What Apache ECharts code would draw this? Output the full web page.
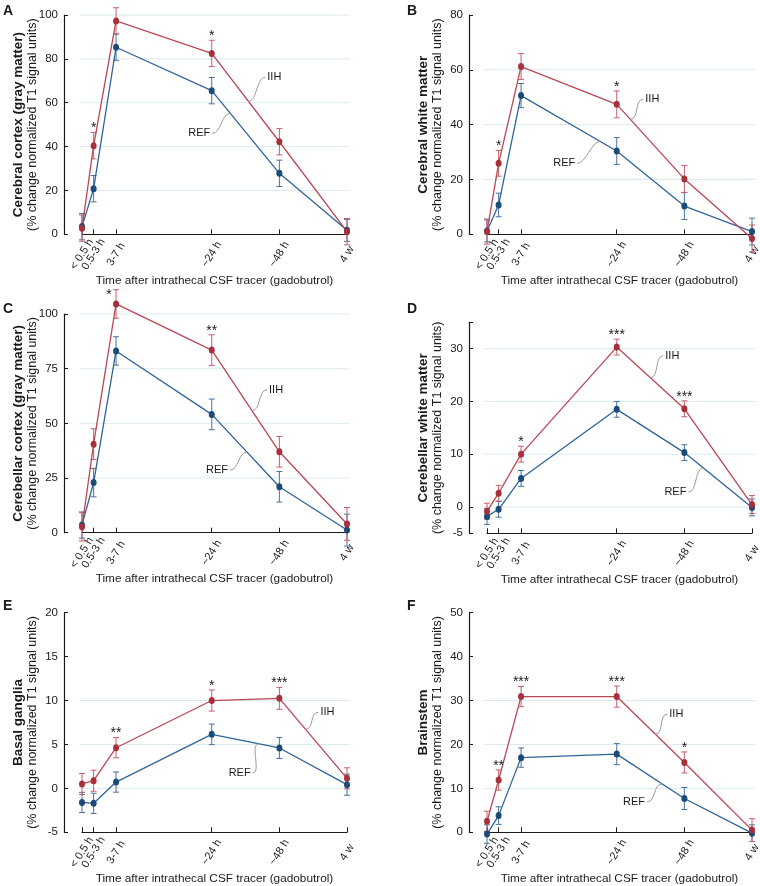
<!DOCTYPE html>
<html>
<head>
<meta charset="utf-8">
<script src="https://cdn.jsdelivr.net/npm/echarts@6/dist/echarts.min.js"></script>
<style>
  html, body { margin: 0; padding: 0; background: #fff; }
  #chart { width: 760px; height: 886px; }
</style>
</head>
<body>
<div id="chart"></div>
<script>
// time points after the tracer and where they sit along the x axis
const timeLabels = ['< 0.5 h', '0.5-3 h', '3-7 h', '~24 h', '~48 h', '4 w'];
const timePos = [0, 11.6, 34, 129.5, 197, 264.5];

// A - cerebral cortex (gray matter)
const aIIH = [2.8, 40.4, 97.3, 82.5, 42.2, 1.2];
const aIIHErr = [6, 6, 6, 6, 6, 6];
const aREF = [3.5, 20.8, 85.3, 65.5, 27.8, 1.8];
const aREFErr = [6, 6, 6, 6, 6, 5];
const aSig = ['', '*', '', '*', '', ''];

// B - cerebral white matter
const bIIH = [1.0, 25.9, 61.2, 47.4, 20.2, -1.5];
const bIIHErr = [4.6, 4.7, 4.7, 4.9, 4.9, 4.9];
const bREF = [1.2, 10.7, 50.6, 30.4, 10.3, 1.0];
const bREFErr = [4, 4.3, 4.4, 4.9, 4.9, 4.9];
const bSig = ['', '*', '', '*', '', ''];

// C - cerebellar cortex (gray matter)
const cIIH = [2.7, 40.5, 104.6, 83.5, 37.0, 4.0];
const cIIHErr = [6.5, 7, 6.5, 7, 7, 7.5];
const cREF = [3.5, 22.9, 83.1, 54.1, 21.0, 1.2];
const cREFErr = [6, 6.5, 6.5, 7, 7, 7.3];
const cSig = ['', '', '*', '**', '', ''];

// D - cerebellar white matter
const dIIH = [-0.8, 2.6, 10.0, 30.3, 18.6, 0.45];
const dIIHErr = [1.5, 1.5, 1.5, 1.5, 1.5, 1.7];
const dREF = [-1.8, -0.45, 5.4, 18.5, 10.3, -0.1];
const dREFErr = [1.5, 1.5, 1.5, 1.5, 1.5, 1.6];
const dSig = ['', '', '*', '***', '***', ''];

// E - basal ganglia
const eIIH = [0.5, 0.87, 4.63, 10.0, 10.25, 1.14];
const eIIHErr = [1.2, 1.2, 1.15, 1.2, 1.25, 1.2];
const eREF = [-1.6, -1.7, 0.72, 6.15, 4.6, 0.42];
const eREFErr = [1.15, 1.15, 1.15, 1.17, 1.2, 1.2];
const eSig = ['', '', '**', '*', '***', ''];

// F - brainstem
const fIIH = [2.5, 11.9, 30.9, 30.9, 15.9, 0.5];
const fIIHErr = [2.3, 2.3, 2.3, 2.4, 2.4, 2.6];
const fREF = [-0.4, 3.8, 17.0, 17.8, 7.7, -0.2];
const fREFErr = [2.1, 2.0, 2.2, 2.4, 2.5, 1.9];
const fSig = ['', '**', '***', '***', '*', ''];

const FONT = '"Liberation Sans", Arial, sans-serif';
const RED = '#a8303d', RED_LINE = '#bb4753', RED_ERR = '#c65f69';
const BLUE = '#1c4b79', BLUE_LINE = '#30639a', BLUE_ERR = '#46739f';
const INK = '#1a1a1a';

const panels = [
  { letter: 'A', title: 'Cerebral cortex (gray matter)', iih: aIIH, iihErr: aIIHErr, ref: aREF, refErr: aREFErr, sig: aSig,
    min: 0, max: 100, interval: 20, gridVals: [20, 40, 60, 80, 100],
    grid: { left: 82, top: 15, width: 265, height: 219.3 },
    notes: [{ text: 'IIH', on: 'iih', x: 166, dx: 17, dy: -24 }, { text: 'REF', on: 'ref', x: 148, dx: -18, dy: 20 }] },
  { letter: 'B', title: 'Cerebral white matter', iih: bIIH, iihErr: bIIHErr, ref: bREF, refErr: bREFErr, sig: bSig,
    min: 0, max: 80, interval: 20, gridVals: [20, 40, 60],
    grid: { left: 487, top: 15, width: 265, height: 219.3 },
    notes: [{ text: 'IIH', on: 'iih', x: 143, dx: 13, dy: -20 }, { text: 'REF', on: 'ref', x: 113, dx: -23, dy: 22 }] },
  { letter: 'C', title: 'Cerebellar cortex (gray matter)', iih: cIIH, iihErr: cIIHErr, ref: cREF, refErr: cREFErr, sig: cSig,
    min: 0, max: 100, interval: 25, gridVals: [25, 50, 75, 100], sigNudge: { 2: [-7, 9] },
    grid: { left: 82, top: 314, width: 265, height: 218.7 },
    notes: [{ text: 'IIH', on: 'iih', x: 169.7, dx: 15, dy: -21 }, { text: 'REF', on: 'ref', x: 164.7, dx: -17, dy: 18 }] },
  { letter: 'D', title: 'Cerebellar white matter', iih: dIIH, iihErr: dIIHErr, ref: dREF, refErr: dREFErr, sig: dSig,
    min: -5, max: 35, interval: 5, gridVals: [0, 10, 20, 30], labelVals: [-5, 0, 10, 20, 30],
    grid: { left: 487, top: 322.3, width: 265, height: 211 },
    notes: [{ text: 'IIH', on: 'iih', x: 163, dx: 13, dy: -22 }, { text: 'REF', on: 'ref', x: 216, dx: -15, dy: 24 }] },
  { letter: 'E', title: 'Basal ganglia', iih: eIIH, iihErr: eIIHErr, ref: eREF, refErr: eREFErr, sig: eSig,
    min: -5, max: 20, interval: 5, gridVals: [0, 5, 10],
    grid: { left: 82, top: 612.7, width: 265, height: 219.6 },
    notes: [{ text: 'IIH', on: 'iih', x: 223, dx: 13, dy: -17 }, { text: 'REF', on: 'ref', x: 176.3, dx: -6, dy: 29 }] },
  { letter: 'F', title: 'Brainstem', iih: fIIH, iihErr: fIIHErr, ref: fREF, refErr: fREFErr, sig: fSig,
    min: 0, max: 50, interval: 10, gridVals: [10, 20, 30],
    grid: { left: 487, top: 612.7, width: 265, height: 219.6 },
    notes: [{ text: 'IIH', on: 'iih', x: 168, dx: 12, dy: -20 }, { text: 'REF', on: 'ref', x: 174.7, dx: -15, dy: 18 }] }
];

function interp(xs, ys, x) {
  for (let i = 0; i < xs.length - 1; i++) {
    if (x >= xs[i] && x <= xs[i + 1]) {
      const t = (x - xs[i]) / (xs[i + 1] - xs[i]);
      return ys[i] + t * (ys[i + 1] - ys[i]);
    }
  }
  return ys[ys.length - 1];
}

function timeLabel(v) {
  let best = 0;
  for (let i = 1; i < timePos.length; i++) {
    if (Math.abs(timePos[i] - v) < Math.abs(timePos[best] - v)) best = i;
  }
  return timeLabels[best];
}

function errorBars(color) {
  return function (params, api) {
    const x = api.value(0), y = api.value(1), e = api.value(2);
    const lo = api.coord([x, y - e]), hi = api.coord([x, y + e]);
    const w = 3;
    const st = { stroke: color, lineWidth: 1 };
    return {
      type: 'group',
      children: [
        { type: 'line', shape: { x1: lo[0], y1: lo[1], x2: hi[0], y2: hi[1] }, style: st },
        { type: 'line', shape: { x1: lo[0] - w, y1: lo[1], x2: lo[0] + w, y2: lo[1] }, style: st },
        { type: 'line', shape: { x1: hi[0] - w, y1: hi[1], x2: hi[0] + w, y2: hi[1] }, style: st }
      ]
    };
  };
}

// rotated time labels, centred under their tick
const xLabelStyle = {
  formatter: timeLabel, rotate: 58, margin: 20, align: 'center', verticalAlign: 'middle',
  showMinLabel: true, showMaxLabel: true, hideOverlap: false,
  fontSize: 11, color: INK, fontFamily: FONT
};

const grids = [], xAxes = [], yAxes = [], series = [], graphics = [];

panels.forEach(function (p, gi) {
  grids.push(Object.assign({ outerBoundsMode: 'none', containLabel: false }, p.grid));
  const xi = xAxes.length;

  // main x axis: line, ticks, title and all but the first label
  xAxes.push({
    gridIndex: gi, type: 'value', position: 'bottom', min: 0, max: timePos[timePos.length - 1],
    axisLine: { show: true, onZero: false, lineStyle: { color: INK, width: 1.2 } },
    axisTick: { show: true, inside: true, length: 5, customValues: timePos, lineStyle: { color: INK } },
    axisLabel: Object.assign({ customValues: timePos.slice(1) }, xLabelStyle),
    splitLine: { show: false },
    name: 'Time after intrathecal CSF tracer (gadobutrol)', nameLocation: 'middle', nameGap: 40,
    nameMoveOverlap: false,
    nameTextStyle: { fontSize: 11.8, color: INK, fontFamily: FONT }
  });
  // twin axis that only carries the "< 0.5 h" label (it overlaps its neighbour in the original)
  xAxes.push({
    gridIndex: gi, type: 'value', position: 'bottom', min: 0, max: timePos[timePos.length - 1],
    axisLine: { show: false, onZero: false }, axisTick: { show: false }, splitLine: { show: false },
    axisLabel: Object.assign({ customValues: [timePos[0]] }, xLabelStyle)
  });

  const yLab = { margin: 6, fontSize: 11.5, color: INK, fontFamily: FONT, showMinLabel: true, showMaxLabel: true };
  const yTick = { show: true, inside: true, length: 4, lineStyle: { color: INK } };
  if (p.labelVals) {
    yLab.customValues = p.labelVals;
    yTick.customValues = p.labelVals.concat([p.max]);
  }
  yAxes.push({
    gridIndex: gi, type: 'value', min: p.min, max: p.max, interval: p.interval, offset: 18,
    axisLine: { show: true, onZero: false, lineStyle: { color: INK, width: 1.2 } },
    axisTick: yTick, axisLabel: yLab, splitLine: { show: false },
    name: '{b|' + p.title + '}\n{n|(% change normalized T1 signal units)}',
    nameLocation: 'middle', nameRotate: 90, nameGap: 24, nameMoveOverlap: false,
    nameTextStyle: { color: INK, fontFamily: FONT,
      rich: { b: { fontWeight: 'bold', fontSize: 13.5, lineHeight: 15, fontFamily: FONT, color: INK },
              n: { fontSize: 12.5, lineHeight: 14, fontFamily: FONT, color: INK } } }
  });

  // light horizontal guide lines
  series.push({
    type: 'custom', xAxisIndex: xi, yAxisIndex: gi, z: 1, silent: true,
    data: p.gridVals.map(function (v) { return [0, v]; }),
    renderItem: function (params, api) {
      const cs = params.coordSys;
      const y = api.coord([0, api.value(1)])[1];
      return { type: 'line', shape: { x1: cs.x - 3, y1: y, x2: cs.x + cs.width + 3, y2: y },
        style: { stroke: '#dcebf0', lineWidth: 1 } };
    }
  });

  // error bars
  series.push({
    type: 'custom', xAxisIndex: xi, yAxisIndex: gi, z: 2, silent: true,
    data: timePos.map(function (x, i) { return [x, p.ref[i], p.refErr[i]]; }),
    renderItem: errorBars(BLUE_ERR)
  });
  series.push({
    type: 'custom', xAxisIndex: xi, yAxisIndex: gi, z: 2, silent: true,
    data: timePos.map(function (x, i) { return [x, p.iih[i], p.iihErr[i]]; }),
    renderItem: errorBars(RED_ERR)
  });

  // group means
  series.push({
    name: 'REF', type: 'line', xAxisIndex: xi, yAxisIndex: gi, z: 3, clip: false,
    data: timePos.map(function (x, i) { return [x, p.ref[i]]; }),
    symbol: 'circle', symbolSize: [6, 7],
    lineStyle: { color: BLUE_LINE, width: 1.3 }, itemStyle: { color: BLUE }
  });
  series.push({
    name: 'IIH', type: 'line', xAxisIndex: xi, yAxisIndex: gi, z: 3, clip: false,
    data: timePos.map(function (x, i) { return [x, p.iih[i]]; }),
    symbol: 'circle', symbolSize: [6, 7],
    lineStyle: { color: RED_LINE, width: 1.3 }, itemStyle: { color: RED }
  });

  // significance stars above the IIH error bars
  series.push({
    type: 'custom', xAxisIndex: xi, yAxisIndex: gi, z: 4, silent: true,
    data: timePos.map(function (x, i) { return [x, p.iih[i] + p.iihErr[i]]; }),
    renderItem: function (params, api) {
      const s = p.sig[params.dataIndex];
      if (!s) return null;
      const pt = api.coord([api.value(0), api.value(1)]);
      const n = (p.sigNudge && p.sigNudge[params.dataIndex]) || [0, 0];
      return { type: 'text', x: pt[0] + n[0], y: pt[1] - 4 + n[1],
        style: { text: s, fill: INK, font: '14px ' + FONT, align: 'center', verticalAlign: 'middle' } };
    }
  });

  // IIH / REF call-outs with curly leader lines
  series.push({
    type: 'custom', xAxisIndex: xi, yAxisIndex: gi, z: 4, silent: true,
    data: p.notes.map(function (n) { return [n.x, interp(timePos, p[n.on], n.x)]; }),
    renderItem: function (params, api) {
      const n = p.notes[params.dataIndex];
      const p1 = api.coord([api.value(0), api.value(1)]);
      const p0 = [p1[0] + n.dx, p1[1] + n.dy];
      const s = n.dx > 0 ? -1 : 1;
      const k = 9;
      return {
        type: 'group',
        children: [
          { type: 'bezierCurve',
            shape: { x1: p0[0], y1: p0[1], cpx1: p0[0] + s * k, cpy1: p0[1],
                     cpx2: p1[0] - s * k, cpy2: p1[1], x2: p1[0], y2: p1[1] },
            style: { stroke: '#9a9a9a', lineWidth: 1, fill: null } },
          { type: 'text', x: p0[0] - s * 2, y: p0[1],
            style: { text: n.text, fill: INK, font: '11px ' + FONT,
                     align: n.dx > 0 ? 'left' : 'right', verticalAlign: 'middle' } }
        ]
      };
    }
  });

  graphics.push({
    type: 'text', left: p.grid.left > 300 ? 407 : 3, top: p.grid.top > 300 ? (p.grid.top > 600 ? 599 : 302) : 4,
    style: { text: p.letter, font: 'bold 14px ' + FONT, fill: INK }
  });
});

const chart = echarts.init(document.getElementById('chart'));
chart.setOption({
  animation: false,
  backgroundColor: '#fff',
  textStyle: { fontFamily: FONT },
  grid: grids,
  xAxis: xAxes,
  yAxis: yAxes,
  series: series,
  graphic: graphics
});
</script>
</body>
</html>
